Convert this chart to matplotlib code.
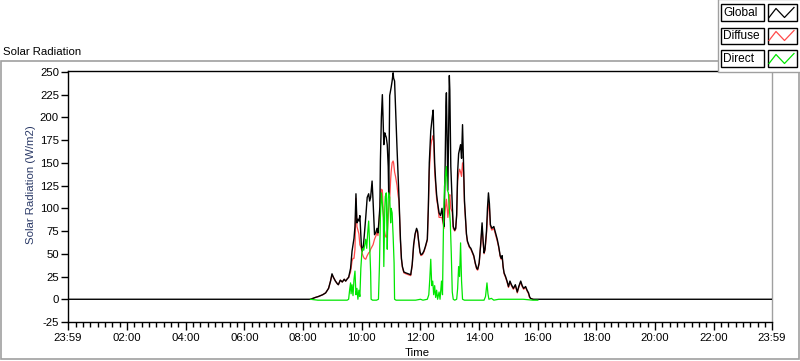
import numpy as np
import matplotlib
matplotlib.use("Agg")
import matplotlib.pyplot as plt
from matplotlib.patches import Rectangle
from matplotlib.lines import Line2D

plt.rcParams['font.family'] = ['Liberation Sans', 'DejaVu Sans']

# ---------------- data ----------------
glob_times = ["00:00", "08:15", "08:25", "08:31", "08:40", "08:46", "08:52", "08:56", "08:59", "09:02",
              "09:06", "09:10", "09:12", "09:16", "09:20", "09:24", "09:27", "09:31", "09:33", "09:37",
              "09:40", "09:42", "09:44", "09:46", "09:48", "09:50", "09:52", "09:54", "09:56", "09:59",
              "10:01", "10:03", "10:05", "10:08", "10:11", "10:14", "10:16", "10:18", "10:21", "10:23",
              "10:26", "10:29", "10:31", "10:33", "10:35", "10:37", "10:38", "10:40", "10:42", "10:44",
              "10:45", "10:47", "10:48", "10:50", "10:52", "10:54", "10:55", "10:57", "10:59", "11:00",
              "11:02", "11:04", "11:05", "11:07", "11:09", "11:12", "11:14", "11:16", "11:19", "11:21",
              "11:23", "11:26", "11:30", "11:35", "11:40", "11:43", "11:46", "11:49", "11:52", "11:54",
              "11:56", "11:59", "12:01", "12:04", "12:07", "12:10", "12:14", "12:16", "12:18", "12:21",
              "12:23", "12:24", "12:26", "12:27", "12:29", "12:31", "12:33", "12:35", "12:38", "12:41",
              "12:44", "12:46", "12:48", "12:50", "12:52", "12:53", "12:55", "12:56", "12:58", "12:59",
              "13:00", "13:02", "13:05", "13:07", "13:10", "13:12", "13:14", "13:16", "13:18", "13:20",
              "13:22", "13:24", "13:26", "13:28", "13:30", "13:32", "13:34", "13:36", "13:40", "13:43",
              "13:46", "13:49", "13:52", "13:55", "13:57", "14:00", "14:03", "14:06", "14:08", "14:10",
              "14:12", "14:15", "14:17", "14:19", "14:21", "14:23", "14:26", "14:30", "14:33", "14:37",
              "14:40", "14:43", "14:45", "14:47", "14:49", "14:51", "14:54", "14:57", "15:00", "15:03",
              "15:06", "15:10", "15:14", "15:18", "15:21", "15:25", "15:28", "15:31", "15:35", "15:38",
              "15:41", "15:43", "15:45", "15:50", "23:59"]

global_vals = [0, 0, 2, 3, 5, 7, 12, 20, 28, 24,
               20, 17, 16, 21, 19, 22, 20, 23, 24, 34,
               53, 60, 67, 80, 116, 84, 88, 86, 92, 60,
               53, 58, 70, 90, 112, 116, 108, 112, 130, 108,
               71, 74, 78, 73, 86, 102, 152, 200, 225, 190,
               170, 183, 181, 178, 170, 146, 115, 224, 230, 233,
               240, 249, 243, 240, 210, 166, 140, 112, 66, 45,
               36, 30, 29, 28, 27, 38, 60, 72, 78, 75,
               65, 52, 49, 50, 53, 58, 66, 100, 150, 185,
               195, 200, 208, 185, 150, 130, 115, 106, 95, 92,
               100, 88, 80, 130, 212, 227, 160, 120, 200, 246,
               230, 146, 104, 80, 76, 78, 93, 140, 160, 165,
               170, 155, 192, 150, 108, 90, 72, 64, 58, 56,
               52, 48, 40, 34, 33, 40, 60, 84, 65, 51,
               55, 75, 100, 117, 105, 82, 78, 80, 74, 66,
               58, 48, 45, 48, 36, 29, 25, 20, 14, 20,
               16, 12, 16, 8, 14, 20, 15, 12, 14, 10,
               7, 3, 1, 0, 0]

diffuse_vals = [np.nan, 0, 2, 3, 5, 7, 12, 20, 27, 24,
                20, 17, 16, 21, 19, 22, 20, 23, 24, 30,
                42, 45, 45, 55, 111, 80, 76, 72, 60, 56,
                50, 47, 45, 44, 48, 51, 52, 55, 58, 60,
                66, 70, 74, 70, 84, 98, 110, 121, 120, 95,
                80, 73, 70, 68, 72, 90, 100, 110, 132, 140,
                150, 152, 150, 140, 135, 125, 115, 108, 64, 44,
                35, 29, 28, 27, 26, 37, 59, 71, 76, 74,
                64, 51, 48, 49, 52, 57, 65, 97, 140, 168,
                175, 176, 180, 172, 140, 126, 110, 104, 90, 90,
                90, 84, 78, 95, 105, 110, 98, 90, 100, 112,
                115, 100, 96, 78, 75, 77, 92, 130, 138, 143,
                140, 135, 150, 140, 105, 88, 71, 63, 57, 55,
                51, 47, 39, 33, 32, 39, 58, 80, 63, 50,
                54, 72, 90, 105, 100, 80, 76, 78, 72, 64,
                57, 47, 44, 47, 35, 28, 24, 19, 13, 19,
                15, 11, 15, 7, 13, 19, 14, 11, 13, 9,
                6, 2, 1, 0, np.nan]

direct_times = ["08:15", "08:30", "09:00", "09:30", "09:33", "09:35", "09:37", "09:38", "09:40", "09:42",
                "09:44", "09:46", "09:48", "09:50", "09:52", "09:54", "09:56", "09:58", "10:00", "10:02",
                "10:04", "10:06", "10:08", "10:10", "10:12", "10:14", "10:16", "10:18", "10:19", "10:22",
                "10:30", "10:34", "10:36", "10:38", "10:40", "10:42", "10:44", "10:45", "10:47", "10:48",
                "10:50", "10:51", "10:52", "10:54", "10:55", "10:57", "10:59", "11:00", "11:02", "11:04",
                "11:06", "11:07", "11:10", "11:30", "11:50", "12:00", "12:05", "12:14", "12:17", "12:19",
                "12:21", "12:23", "12:25", "12:27", "12:29", "12:31", "12:33", "12:35", "12:38", "12:40",
                "12:43", "12:45", "12:47", "12:49", "12:51", "12:53", "12:55", "12:57", "12:59", "13:01",
                "13:03", "13:05", "13:07", "13:10", "13:14", "13:16", "13:18", "13:20", "13:22", "13:24",
                "13:26", "13:30", "14:00", "14:10", "14:13", "14:16", "14:18", "14:20", "14:25", "14:30",
                "14:40", "15:00", "15:30", "15:50", "16:00"]

direct_vals = [0, -1, -1, -1, 0, 10, 18, 6, 16, 4,
               22, 31, 5, 12, 0, 10, 3, 34, 51, 56,
               54, 60, 66, 56, 73, 86, 60, 30, 0, -1,
               -1, 0, 36, 90, 117, 105, 90, 36, 100, 113,
               117, 85, 55, 110, 117, 112, 84, 100, 95, 70,
               40, 0, -1, -1, -1, 0, -1, 0, 5, 22,
               44, 15, 20, 5, 15, 2, 10, 0, 8, 0,
               20, 5, 80, 124, 135, 146, 120, 117, 100, 84,
               50, 8, 0, -1, 0, 12, 36, 25, 62, 20,
               0, -1, -1, -1, 3, 18, 6, 0, 1, -1,
               0, 0, 0, -1, -1]

y_ticks = [-25, 0, 25, 50, 75, 100, 125, 150, 175, 200, 225, 250]
x_tick_labels = ["23:59", "02:00", "04:00", "06:00", "08:00", "10:00", "12:00",
                 "14:00", "16:00", "18:00", "20:00", "22:00", "23:59"]


def to_hours(s):
    h, m = s.split(":")
    return int(h) + int(m) / 60.0


gx = np.array([to_hours(t) for t in glob_times])
dx = np.array([to_hours(t) for t in direct_times])

# ---------------- figure ----------------
W, H = 800, 361
fig = plt.figure(figsize=(W / 100, H / 100), dpi=100)
fig.patch.set_facecolor("white")


def fx(x):
    return x / W


def fy(y):
    return 1 - y / H


ax = fig.add_axes([fx(68), fy(322), fx(772) - fx(68), fy(71) - fy(322)])
ax.set_facecolor("white")

ax.plot(gx, diffuse_vals, color="#ff4a4a", lw=0.9, zorder=2)
ax.plot(gx, global_vals, color="black", lw=1.0, zorder=3)
ax.plot(dx, direct_vals, color="#00e600", lw=0.9, zorder=4)

x0 = -1 / 60
x1 = 24 - 1 / 60
ax.set_xlim(x0, x1)
ax.set_ylim(-25, 251)

major = [x0] + list(range(2, 24, 2)) + [x1]
ax.set_xticks(major)
ax.set_xticklabels(x_tick_labels)
minor = [m for m in np.arange(0.25, 24, 0.25) if abs(m - round(m / 2) * 2) > 1e-6]
ax.set_xticks(minor, minor=True)
ax.set_yticks(y_ticks)
ax.set_yticklabels([str(v) for v in y_ticks])

ax.tick_params(axis="x", which="major", direction="out", length=6, width=1, pad=2,
               labelsize=8.2, colors="black")
ax.tick_params(axis="x", which="minor", direction="out", length=3.5, width=1, colors="black")
ax.tick_params(axis="y", which="major", direction="out", length=5, width=1, pad=1.5,
               labelsize=8.2, colors="black")

for s in ["left", "bottom", "top"]:
    ax.spines[s].set_color("black")
    ax.spines[s].set_linewidth(1)
ax.spines["right"].set_color("#a0a0a0")
ax.spines["right"].set_linewidth(1)

# outer gray frame
frame = Rectangle((fx(0.5), fy(358.5)), fx(798.5) - fx(0.5), fy(61) - fy(358.5),
                  transform=fig.transFigure, fill=False, edgecolor="#a0a0a0", lw=1.2, zorder=-1)
fig.add_artist(frame)

# labels
fig.text(fx(3), fy(55), "Solar Radiation", fontsize=8.2, ha="left", va="baseline", color="black")
fig.text(fx(31), fy(185), "Solar Radiation (W/m2)", fontsize=8.2, rotation=90,
         ha="center", va="center", color="#2b3a67")
fig.text(fx(417), fy(353), "Time", fontsize=8.2, ha="center", va="center", color="black")

# legend panel
panel = Rectangle((fx(717.5), fy(71.5)), fx(801) - fx(717.5), fy(-1) - fy(71.5),
                  transform=fig.transFigure, facecolor="white", edgecolor="#a0a0a0", lw=1, zorder=5)
fig.add_artist(panel)

legend_names = ["Global", "Diffuse", "Direct"]
legend_colors = ["black", "#ff4a4a", "#00e600"]
row_tops = [4.5, 27.5, 50.5]
for name, col, top in zip(legend_names, legend_colors, row_tops):
    bot = top + 16
    fig.add_artist(Rectangle((fx(720.5), fy(bot)), fx(763.5) - fx(720.5), fy(top) - fy(bot),
                             transform=fig.transFigure, facecolor="white", edgecolor="black",
                             lw=1, zorder=6))
    fig.add_artist(Rectangle((fx(767.5), fy(bot)), fx(796.5) - fx(767.5), fy(top) - fy(bot),
                             transform=fig.transFigure, facecolor="white", edgecolor="black",
                             lw=1, zorder=6))
    fig.text(fx(723), fy(top + 8.5), name, fontsize=8.6, ha="left", va="center",
             color="black", zorder=7)
    zx = [769, 776, 784.5, 794]
    zy = [top + 13, top + 4, top + 13, top + 3]
    fig.add_artist(Line2D([fx(v) for v in zx], [fy(v) for v in zy], transform=fig.transFigure,
                          color=col, lw=0.9, zorder=7))

fig.savefig("out.png", dpi=100)
